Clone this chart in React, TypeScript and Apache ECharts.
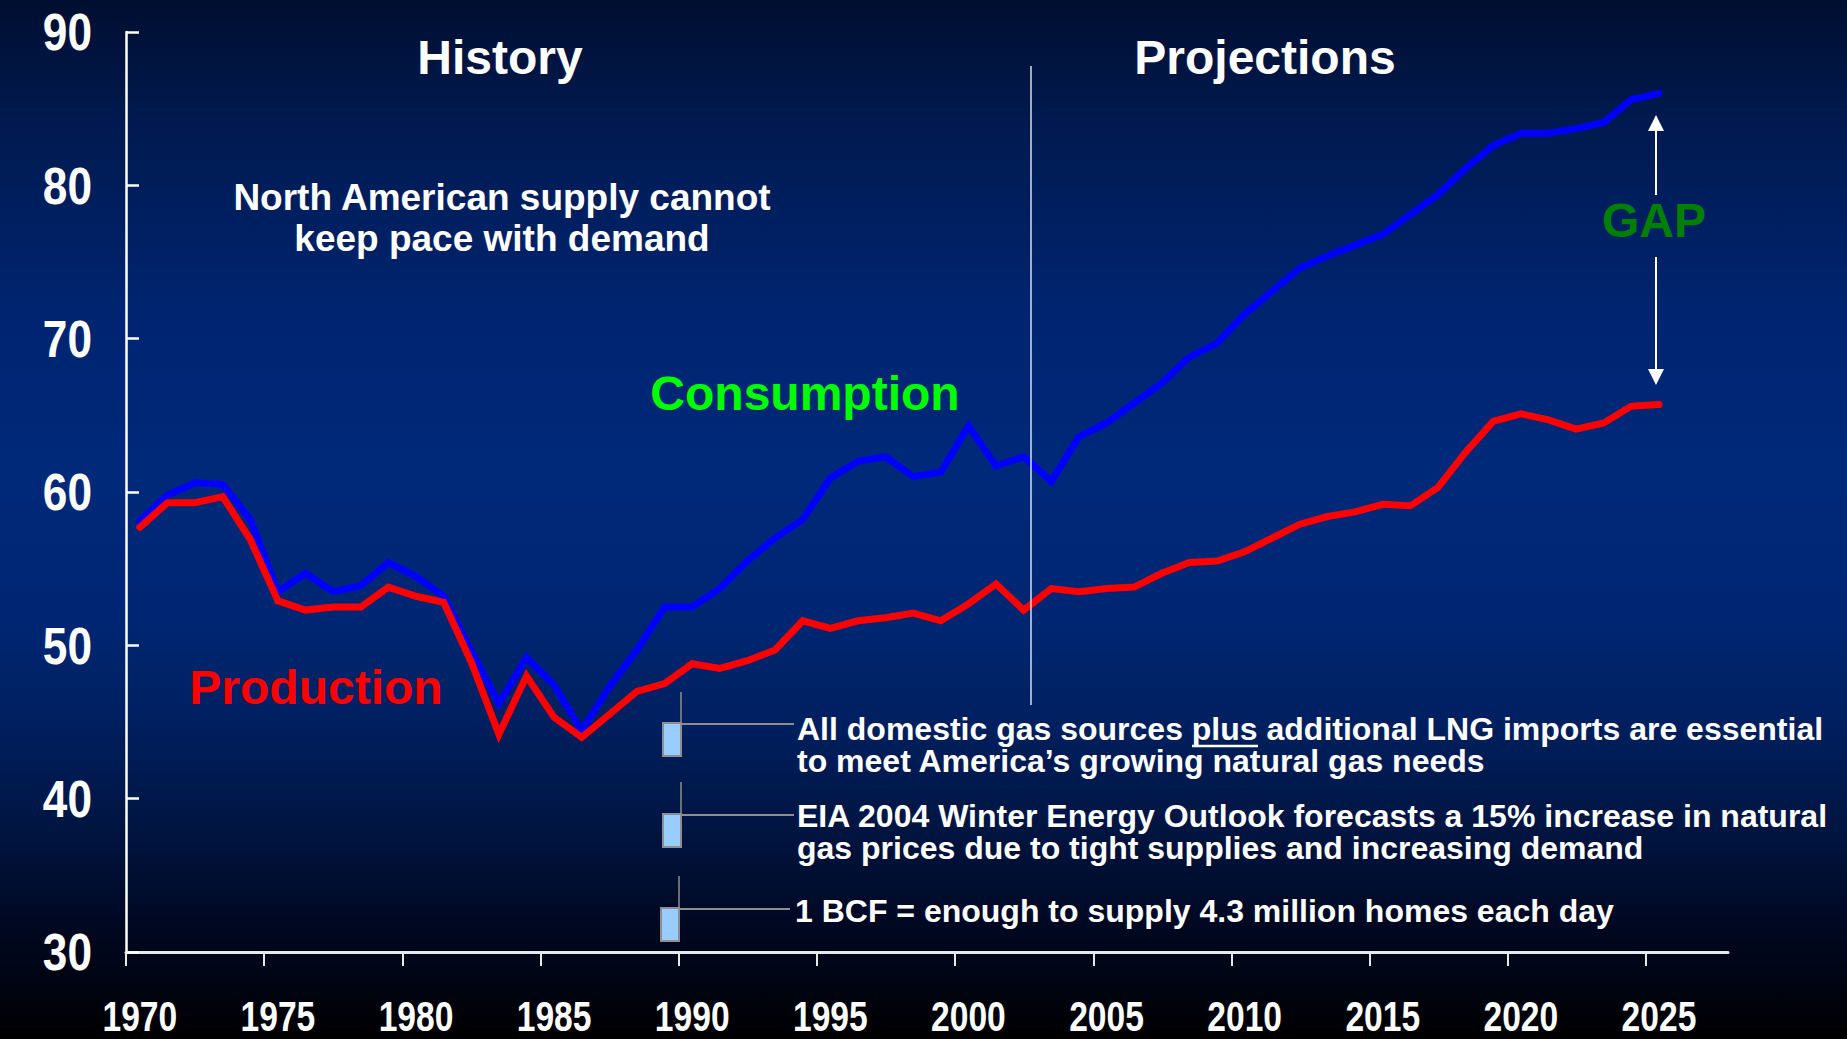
import React, { useEffect, useRef } from "react";
import * as echarts from "echarts";

const years = [
  "1970","1971","1972","1973","1974","1975","1976","1977","1978","1979",
  "1980","1981","1982","1983","1984","1985","1986","1987","1988","1989",
  "1990","1991","1992","1993","1994","1995","1996","1997","1998","1999",
  "2000","2001","2002","2003","2004","2005","2006","2007","2008","2009",
  "2010","2011","2012","2013","2014","2015","2016","2017","2018","2019",
  "2020","2021","2022","2023","2024","2025","2026","2027",
];

const xTickLabels = ["1970","1975","1980","1985","1990","1995","2000","2005","2010","2015","2020","2025"];
const yTickLabels = [30, 40, 50, 60, 70, 80, 90];

const consumption = [
  58.1, 59.8, 60.6, 60.5, 58.2, 53.5, 54.7, 53.5, 53.9, 55.4,
  54.5, 53.2, 49.6, 46.2, 49.2, 47.4, 44.4, 47.3, 49.7, 52.5,
  52.5, 53.7, 55.5, 57.0, 58.2, 60.9, 62.0, 62.3, 61.0, 61.3,
  64.3, 61.7, 62.3, 60.7, 63.6, 64.5, 65.8, 67.1, 68.8, 69.7,
  71.6, 73.1, 74.6, 75.4, 76.1, 76.8, 78.1, 79.4, 81.1, 82.6,
  83.4, 83.4, 83.7, 84.1, 85.6, 86.0,
];

const production = [
  57.7, 59.3, 59.3, 59.7, 56.9, 52.9, 52.3, 52.5, 52.5, 53.8,
  53.2, 52.8, 48.9, 44.2, 48.0, 45.3, 44.0, 45.5, 47.0, 47.5,
  48.8, 48.5, 49.0, 49.7, 51.6, 51.1, 51.6, 51.8, 52.1, 51.6,
  52.7, 54.0, 52.3, 53.7, 53.5, 53.7, 53.8, 54.7, 55.4, 55.5,
  56.1, 57.0, 57.9, 58.4, 58.7, 59.2, 59.1, 60.3, 62.6, 64.6,
  65.1, 64.7, 64.1, 64.5, 65.6, 65.7,
];

const yMin = 30;
const yMax = 90;
const yStep = 10;

const bullets = [
  ["All domestic gas sources plus additional LNG imports are essential", "to meet America\u2019s growing natural gas needs"],
  ["EIA 2004 Winter Energy Outlook forecasts a 15% increase in natural", "gas prices due to tight supplies and increasing demand"],
  ["1 BCF = enough to supply 4.3 million homes each day"],
];

const SANS = '"Liberation Sans", Arial, Helvetica, sans-serif';

function txt(text: string, x: number, y: number, size: number, fill: string, align = "center", scaleX = 1, lineHeight?: number) {
  return {
    type: "text",
    x,
    y,
    scaleX,
    z: 10,
    style: {
      text,
      fill,
      fontSize: size,
      fontWeight: "bold",
      fontFamily: SANS,
      textAlign: align,
      textVerticalAlign: "middle",
      verticalAlign: "middle",
      lineHeight: lineHeight ?? Math.round(size * 1.1),
    },
  };
}

function seg(x1: number, y1: number, x2: number, y2: number, stroke: string, w: number) {
  return {
    type: "line",
    z: 9,
    shape: { x1, y1, x2, y2 },
    style: { stroke, lineWidth: w },
  };
}

export default function App() {
  const ref = useRef<HTMLDivElement>(null);

  useEffect(() => {
    if (!ref.current) return;
    const chart = echarts.init(ref.current, undefined, { renderer: "svg" });

    const option: any = {
      animation: false,
      backgroundColor: "transparent",
      grid: [
        { left: 126, right: 119, top: 32, bottom: 87 },
        { left: 126, right: 201, top: 32, bottom: 87 },
      ],
      xAxis: [
        {
          type: "category",
          data: years,
          boundaryGap: true,
          axisLine: { show: true, lineStyle: { color: "#e8e8e8", width: 3 } },
          axisTick: { show: false },
          axisLabel: { show: false },
          splitLine: { show: false },
        },
        {
          type: "value",
          gridIndex: 1,
          min: 0,
          max: 55,
          interval: 5,
          position: "bottom",
          axisLine: { show: false },
          axisTick: { show: true, inside: false, length: 14, lineStyle: { color: "#e8e8e8", width: 2 } },
          axisLabel: { show: false },
          splitLine: { show: false },
        },
      ],
      yAxis: [
        {
          type: "value",
          min: yMin,
          max: yMax,
          interval: yStep,
          axisLine: { show: true, lineStyle: { color: "#ffffff", width: 2.5 } },
          axisTick: { show: true, inside: true, length: 13, lineStyle: { color: "#ffffff", width: 2.5 } },
          axisLabel: { show: false },
          splitLine: { show: false },
        },
        {
          type: "value",
          gridIndex: 1,
          min: 0,
          max: 1,
          show: false,
        },
      ],
      series: [
        {
          name: "Consumption",
          type: "line",
          data: consumption,
          symbol: "none",
          z: 3,
          lineStyle: { color: "#0000ff", width: 7, cap: "round", join: "miter" },
          itemStyle: { color: "#0000ff" },
        },
        {
          name: "Production",
          type: "line",
          data: production,
          symbol: "none",
          z: 4,
          lineStyle: { color: "#ff0000", width: 7, cap: "round", join: "miter" },
          itemStyle: { color: "#ff0000" },
        },
      ],
    };

    chart.setOption(option);

    const gray = "#8e8e8e";
    const bulletTop = [723, 814, 908];
    const bulletX = [663, 663, 661];
    const lineTopY = [692, 782, 876];
    const textX = [797, 797, 795];
    const textY = [745, 832, 911];
    const hEnd = [794, 794, 790];

    const elements: any[] = [
      txt("History", 500, 57, 48, "#ffffff"),
      txt("Projections", 1265, 57, 48, "#ffffff"),
      txt("North American supply cannot\nkeep pace with demand", 502, 217.5, 37, "#ffffff", "center", 1, 41),
      txt("Consumption", 805, 393, 48, "#00ff00"),
      txt("Production", 316, 687, 48, "#ff0000"),
      txt("GAP", 1654, 220, 48, "#008000"),
      seg(1031, 66, 1031, 705, "rgba(255,255,255,0.85)", 1.5),
      seg(1656, 128, 1656, 195, "#ffffff", 2),
      seg(1656, 257, 1656, 372, "#ffffff", 2),
      {
        type: "polygon",
        z: 9,
        shape: { points: [[1656, 115], [1648, 131], [1664, 131]] },
        style: { fill: "#ffffff" },
      },
      {
        type: "polygon",
        z: 9,
        shape: { points: [[1656, 385], [1648, 369], [1664, 369]] },
        style: { fill: "#ffffff" },
      },
    ];

    bullets.forEach((lines, i) => {
      const bx = bulletX[i];
      const by = bulletTop[i];
      elements.push(seg(bx + 18, lineTopY[i], bx + 18, by, gray, 1.5));
      elements.push(seg(bx + 18, by + 1, hEnd[i], by + 1, gray, 2));
      elements.push({
        type: "rect",
        z: 9,
        shape: { x: bx, y: by, width: 18, height: 33 },
        style: { fill: "#99ccff", stroke: gray, lineWidth: 2 },
      });
      elements.push(txt(lines.join("\n"), textX[i], textY[i], 32, "#ffffff", "left", 1, 32));
    });
    // underline for "plus"
    elements.push(seg(1192, 746, 1258, 746, "#ffffff", 2.5));

    // axis tick labels placed through the chart's own scales (condensed look)
    const axisY = chart.convertToPixel({ yAxisIndex: 0 }, yMin) as number;
    const axisX = chart.convertToPixel({ xAxisIndex: 0 }, 0) as number;
    const bandHalf = ((chart.convertToPixel({ xAxisIndex: 0 }, 1) as number) - axisX) / 2;
    const yAxisLineX = axisX - bandHalf;
    xTickLabels.forEach((lab) => {
      const px = chart.convertToPixel({ xAxisIndex: 0 }, years.indexOf(lab)) as number;
      elements.push(txt(lab, px, axisY + 65, 42, "#ffffff", "center", 0.8, 40));
    });
    yTickLabels.forEach((v) => {
      const py = chart.convertToPixel({ yAxisIndex: 0 }, v) as number;
      elements.push(txt(String(v), yAxisLineX - 34, py, 52, "#ffffff", "right", 0.85, 52));
    });

    chart.setOption({ graphic: { elements } });
    return () => chart.dispose();
  }, []);

  return (
    <div
      style={{
        position: "absolute",
        left: 0,
        top: 0,
        width: 1847,
        height: 1039,
        background:
          "linear-gradient(to bottom, #000e30 0%, #001a50 12%, #002470 30%, #00297a 45%, #002672 60%, #001f5e 70%, #001440 80%, #000822 89%, #000410 95%, #000000 100%)",
      }}
    >
      <div ref={ref} style={{ width: 1847, height: 1039 }} />
    </div>
  );
}
